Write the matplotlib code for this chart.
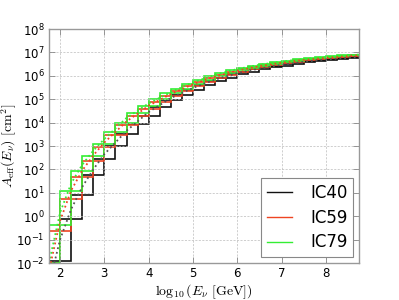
import numpy as np
import matplotlib
matplotlib.use("Agg")
import matplotlib.pyplot as plt
from matplotlib.ticker import LogLocator, LogFormatterMathtext, FixedLocator

plt.rcParams['mathtext.fontset'] = 'cm'

# bin edges in log10(E/GeV), width 0.25
bin_edges = [1.75, 2.0, 2.25, 2.5, 2.75, 3.0, 3.25, 3.5, 3.75, 4.0, 4.25, 4.5, 4.75,
             5.0, 5.25, 5.5, 5.75, 6.0, 6.25, 6.5, 6.75, 7.0, 7.25, 7.5, 7.75, 8.0,
             8.25, 8.5, 8.75]

# log10 of binned effective area [cm^2]
ic40_log = [-1.9, -0.1, 0.92, 1.75, 2.45, 3.0, 3.5, 3.95, 4.3, 4.65, 4.95, 5.18, 5.4,
            5.6, 5.77, 5.92, 6.06, 6.17, 6.27, 6.36, 6.44, 6.51, 6.58, 6.64, 6.69,
            6.73, 6.77, 6.8]
ic59_log = [-0.62, 0.75, 1.69, 2.38, 2.95, 3.45, 3.88, 4.28, 4.6, 4.9, 5.15, 5.35,
            5.56, 5.75, 5.92, 6.05, 6.18, 6.29, 6.38, 6.46, 6.53, 6.6, 6.66, 6.71,
            6.76, 6.8, 6.84, 6.88]
ic79_log = [-0.38, 1.06, 1.94, 2.58, 3.1, 3.6, 4.0, 4.4, 4.7, 5.0, 5.25, 5.42, 5.65,
            5.83, 6.0, 6.12, 6.25, 6.35, 6.44, 6.51, 6.58, 6.64, 6.7, 6.75, 6.79,
            6.83, 6.87, 6.91]

# smooth (dotted) effective area curves
ic40_curve_x = [1.87, 2.0, 2.25, 2.5, 2.75, 3.0, 3.5, 4.0, 4.5, 5.0, 5.5, 6.0, 6.5,
                7.0, 7.5, 8.0, 8.75]
ic40_curve_log = [-2.0, -1.0, 0.3, 1.25, 2.0, 2.65, 3.65, 4.45, 5.05, 5.48, 5.84,
                  6.11, 6.31, 6.47, 6.6, 6.7, 6.8]
ic59_curve_x = [1.79, 2.0, 2.25, 2.5, 2.75, 3.0, 3.5, 4.0, 4.5, 5.0, 5.5, 6.0, 6.5,
                7.0, 7.5, 8.0, 8.75]
ic59_curve_log = [-2.0, -0.2, 1.1, 1.95, 2.6, 3.15, 4.05, 4.72, 5.22, 5.64, 5.97,
                  6.22, 6.41, 6.56, 6.68, 6.77, 6.88]
ic79_curve_x = [1.75, 2.0, 2.25, 2.5, 2.75, 3.0, 3.5, 4.0, 4.5, 5.0, 5.5, 6.0, 6.5,
                7.0, 7.5, 8.0, 8.75]
ic79_curve_log = [-2.0, 0.15, 1.4, 2.2, 2.8, 3.3, 4.2, 4.82, 5.3, 5.72, 6.04,
                  6.29, 6.47, 6.61, 6.72, 6.8, 6.91]

labels = ['IC40', 'IC59', 'IC79']
colors = ['#111111', '#ee4422', '#33ee33']
curve_colors = ['#555555', '#ee4422', '#33ee33']

fig = plt.figure(figsize=(3.99, 3.0), dpi=100)
ax = fig.add_axes([0.1228, 0.1233, 0.777, 0.78])

edges = np.array(bin_edges)
lefts = edges[:-1]
widths = np.diff(edges)
ymin = 1e-2

for vals, cx, cy, c, cc, lab in [
        (ic40_log, ic40_curve_x, ic40_curve_log, colors[0], curve_colors[0], labels[0]),
        (ic59_log, ic59_curve_x, ic59_curve_log, colors[1], curve_colors[1], labels[1]),
        (ic79_log, ic79_curve_x, ic79_curve_log, colors[2], curve_colors[2], labels[2])]:
    h = 10.0 ** np.array(vals)
    bottoms = np.concatenate([[ymin], h[:-1]])
    ax.bar(lefts, h - bottoms, width=widths, bottom=bottoms, align='edge', fill=False,
           edgecolor=c, linewidth=1.2)
    ax.plot(cx, 10.0 ** np.array(cy), linestyle=':', color=cc, linewidth=1.3)
    ax.plot([], [], color=c, linewidth=1.0, label=lab)

ax.set_yscale('log')
ax.set_xlim(1.75, 8.75)
ax.set_ylim(1e-2, 1e8)
ax.xaxis.set_major_locator(FixedLocator([2, 3, 4, 5, 6, 7, 8]))
ax.yaxis.set_major_locator(LogLocator(base=10, numticks=12))
ax.yaxis.set_minor_locator(LogLocator(base=10, subs=[], numticks=12))
ax.yaxis.set_major_formatter(LogFormatterMathtext())
ax.tick_params(axis='both', which='major', direction='in', length=4, width=0.6,
               color='#888888', labelsize=8.5, pad=3, top=True, right=True)
ax.grid(True, color='#bbbbbb', linestyle='--', linewidth=0.5, dashes=(3, 2))
for s in ax.spines.values():
    s.set_color('#999999')
    s.set_linewidth(1.0)

ax.set_xlabel(r'$\log_{10}(E_\nu\ [\mathrm{GeV}])$', fontsize=10, labelpad=2)
ax.set_ylabel(r'$A_{\mathrm{eff}}(E_\nu)\ [\mathrm{cm}^2]$', fontsize=10)
ax.yaxis.set_label_coords(-0.098, 0.5)

leg = ax.legend(loc='lower right', fontsize=12, fancybox=False, framealpha=1,
                edgecolor='#888888', handlelength=1.5, handletextpad=1.1,
                borderpad=0.35, labelspacing=0.4, borderaxespad=0.35)
leg.get_frame().set_linewidth(0.8)

fig.savefig('out.png', dpi=100)
